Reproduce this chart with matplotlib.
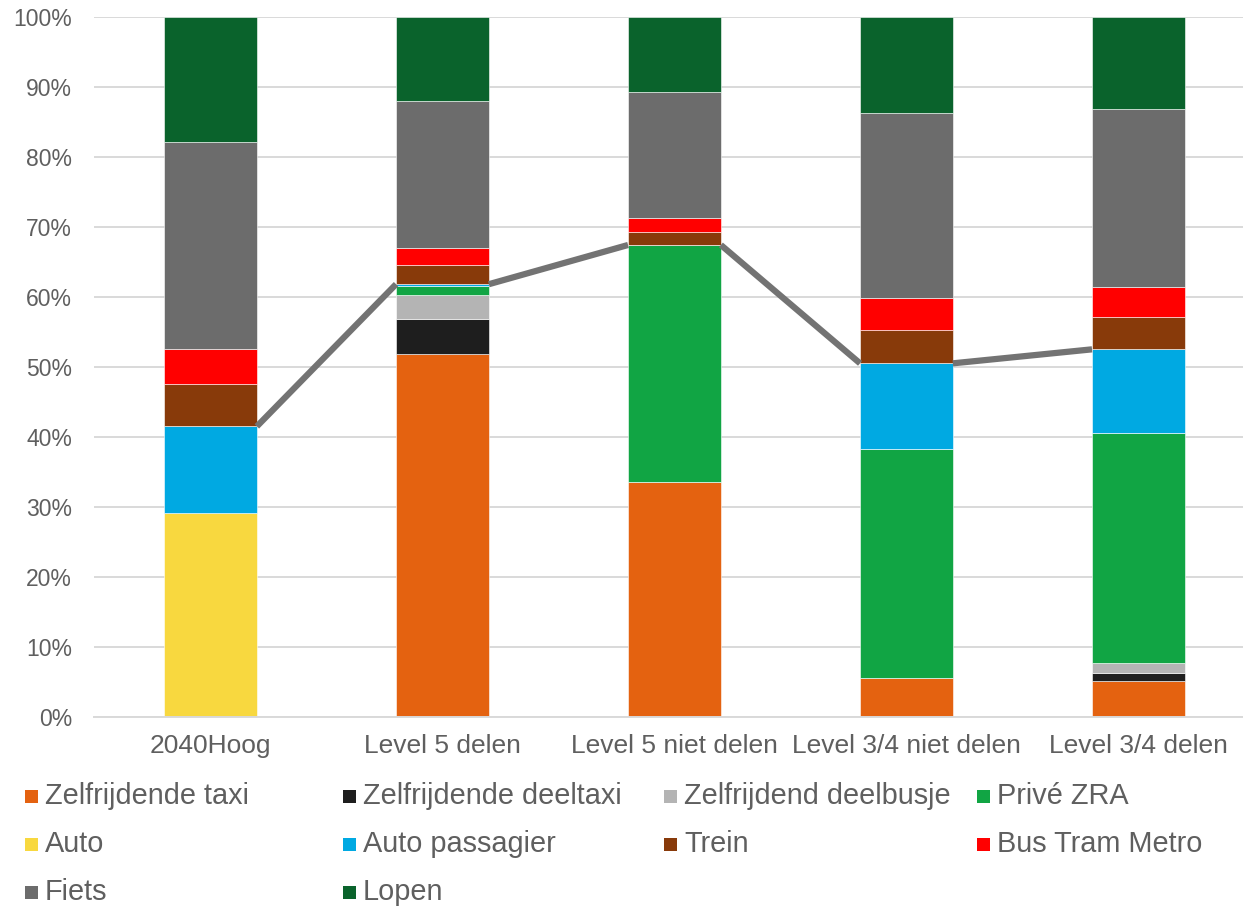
import numpy as np
import matplotlib.pyplot as plt
from matplotlib.patches import Rectangle
from matplotlib.ticker import PercentFormatter

plt.rcParams['font.family'] = ['Liberation Sans', 'DejaVu Sans']

scenarios = ['2040Hoog', 'Level 5 delen', 'Level 5 niet delen',
             'Level 3/4 niet delen', 'Level 3/4 delen']

# aandeel per modaliteit (%), van onder naar boven gestapeld
zelfrijdende_taxi = [0.0, 51.9, 33.6, 5.5, 5.2]
zelfrijdende_deeltaxi = [0.0, 5.0, 0.0, 0.0, 1.1]
zelfrijdend_deelbusje = [0.0, 3.3, 0.0, 0.0, 1.4]
prive_zra = [0.0, 1.3, 33.8, 32.8, 32.9]
auto = [29.2, 0.0, 0.0, 0.0, 0.0]
auto_passagier = [12.3, 0.3, 0.0, 12.2, 11.9]
trein = [6.0, 2.7, 1.8, 4.8, 4.6]
bus_tram_metro = [5.1, 2.4, 2.0, 4.6, 4.3]
fiets = [29.5, 21.0, 18.0, 26.3, 25.4]
lopen = [17.9, 12.1, 10.8, 13.8, 13.2]

series = [
    ('Zelfrijdende taxi', zelfrijdende_taxi, '#E46210'),
    ('Zelfrijdende deeltaxi', zelfrijdende_deeltaxi, '#1E1E1E'),
    ('Zelfrijdend deelbusje', zelfrijdend_deelbusje, '#B4B4B4'),
    ('Privé ZRA', prive_zra, '#11A544'),
    ('Auto', auto, '#F8D83F'),
    ('Auto passagier', auto_passagier, '#00A9E2'),
    ('Trein', trein, '#883A0A'),
    ('Bus Tram Metro', bus_tram_metro, '#FF0000'),
    ('Fiets', fiets, '#6C6C6C'),
    ('Lopen', lopen, '#0A632C'),
]

text_color = '#5F5F5F'
grid_color = '#D9D9D9'

fig = plt.figure(figsize=(12.43, 9.06), dpi=100)
ax = fig.add_axes([0.076, 0.2086, 0.9332, 0.7730])

x = np.arange(len(scenarios))
width = 0.4
bottom = np.zeros(len(scenarios))
for label, values, color in series:
    vals = np.array(values)
    ax.bar(x, vals, width, bottom=bottom, color=color, label=label,
           edgecolor='white', linewidth=0.4, zorder=2)
    bottom += vals

# verbindingslijnen op de bovenkant van het autoverkeer (t/m Auto passagier)
car_top = np.sum([np.array(s[1]) for s in series[:6]], axis=0)
for i in range(len(x) - 1):
    ax.plot([x[i] + width / 2, x[i + 1] - width / 2],
            [car_top[i], car_top[i + 1]],
            color='#737373', linewidth=4.5, solid_capstyle='butt', zorder=3)

ax.set_xlim(-0.5, len(scenarios) - 0.5)
ax.set_ylim(0, 100)
ax.set_yticks(np.arange(0, 101, 10))
ax.yaxis.set_major_formatter(PercentFormatter(decimals=0))
ax.set_xticks(x)
ax.set_xticklabels(scenarios)
ax.grid(axis='y', color=grid_color, linewidth=1.4, zorder=0)
ax.set_axisbelow(True)
for side in ['top', 'right', 'left']:
    ax.spines[side].set_visible(False)
ax.spines['bottom'].set_color(grid_color)
ax.spines['bottom'].set_linewidth(1.4)
ax.tick_params(axis='y', length=0, pad=16, labelsize=16.5, labelcolor=text_color)
ax.tick_params(axis='x', length=0, pad=12, labelsize=19, labelcolor=text_color)

# legenda in vier vaste kolommen, rij voor rij
W, H = 1243, 906
col_x = [25, 343, 664, 977]
row_y = [796, 844, 892]
sq = 13
for k, (label, values, color) in enumerate(series):
    r, c = divmod(k, 4)
    x0, yc = col_x[c], row_y[r]
    fig.add_artist(Rectangle((x0 / W, 1 - (yc + sq / 2) / H), sq / W, sq / H,
                             transform=fig.transFigure, color=color, lw=0))
    fig.text((x0 + sq + 7) / W, 1 - yc / H, label, fontsize=20.8,
             color=text_color, va='center', ha='left')

fig.savefig('out.png', dpi=100)
